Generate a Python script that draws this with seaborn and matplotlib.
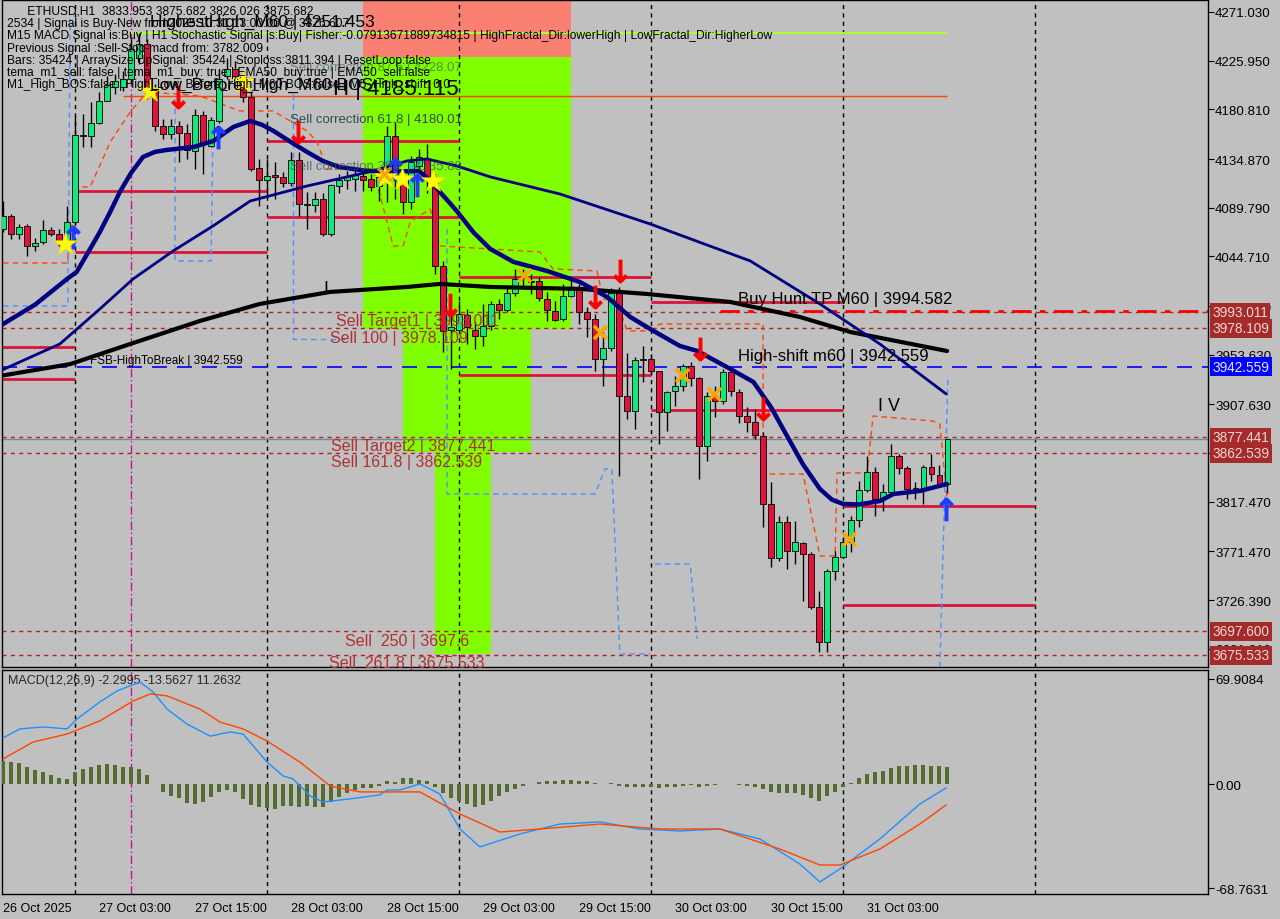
import numpy as np
import seaborn as sns
import matplotlib.pyplot as plt
from matplotlib.patches import Rectangle

sns.set_style("white")
plt.rcParams['font.family'] = ['Liberation Sans', 'DejaVu Sans']

BG = "#c0c0c0"
BULL = "#14e67c"
BEAR = "#dc143c"
LVL = "#b22222"

# ETHUSD H1 candles, 26 Oct 15:00 -> 31 Oct 13:00
opens = [4070, 4082, 4065, 4073, 4054, 4058, 4069, 4065, 4059, 4077,
         4157, 4156, 4168, 4189, 4202, 4202, 4209, 4228, 4241, 4200,
         4165, 4158, 4165, 4159, 4142, 4176, 4147, 4170, 4212, 4218,
         4211, 4192, 4127, 4115, 4120, 4118, 4113, 4134, 4092, 4092,
         4098, 4065, 4110, 4115, 4116, 4119, 4116, 4110, 4121, 4156,
         4118, 4095, 4128, 4135, 4114, 4036, 3977, 3977, 3990, 3977,
         3971, 3980, 4001, 3995, 4011, 4027, 4022, 4022, 4005, 3994,
         3987, 4008, 4014, 3993, 3987, 3950, 3960, 4012, 3915, 3902,
         3950, 3950, 3939, 3901, 3920, 3925, 3943, 3932, 3869, 3915,
         3911, 3938, 3919, 3897, 3891, 3878, 3815, 3765, 3799, 3772,
         3779, 3769, 3720, 3688, 3753, 3766, 3780, 3801, 3828, 3845,
         3820, 3827, 3860, 3849, 3829, 3829, 3850, 3842, 3834.0]
highs = [4096, 4084, 4075, 4075, 4062, 4078, 4072, 4070, 4091, 4175,
         4177, 4188, 4197, 4212, 4214, 4216, 4246, 4251.5, 4246, 4204,
         4172, 4172, 4170, 4167, 4181, 4179, 4174, 4218, 4228, 4226,
         4214, 4198, 4135, 4135, 4132, 4123, 4141, 4141, 4104, 4104,
         4103, 4112, 4121, 4124, 4126, 4124, 4121, 4124, 4165, 4169,
         4121, 4138, 4144, 4149, 4121, 4040, 3993, 4003, 3996, 3984,
         4001, 4003, 4005, 4017, 4033, 4033, 4028, 4026, 4012, 4003,
         4019, 4024, 4019, 3998, 3991, 3975, 4015, 4016, 3955, 3952,
         3962, 3954, 3939, 3920, 3934, 3945, 3947, 3933, 3919, 3925,
         3940, 3940, 3922, 3905, 3903, 3882, 3836, 3804, 3804, 3800,
         3780, 3771, 3735, 3755, 3772, 3785, 3804, 3837, 3860, 3850,
         3834, 3871, 3862, 3851, 3836, 3852, 3862, 3852, 3875.7]
lows = [4067, 4061, 4061, 4045, 4050, 4056, 4064, 4054, 4053, 4075,
        4146, 4146, 4167, 4189, 4195, 4198, 4204, 4223, 4190, 4161,
        4153, 4153, 4132, 4135, 4126, 4121, 4146, 4168, 4209, 4209,
        4188, 4124, 4091, 4101, 4098, 4109, 4110, 4082, 4070, 4086,
        4064, 4064, 4103, 4107, 4105, 4105, 4105, 4096, 4095, 4098,
        4084, 4089, 4126, 4103, 4028, 3956, 3940, 3976, 3964, 3959,
        3962, 3977, 3987, 3993, 4008, 4015, 4010, 4003, 3985, 3985,
        3985, 4007, 3982, 3970, 3939, 3925, 3957, 3841, 3894, 3885,
        3928, 3936, 3871, 3883, 3906, 3920, 3925, 3839, 3855, 3896,
        3908, 3915, 3890, 3882, 3876, 3794, 3757, 3763, 3755, 3760,
        3726, 3718, 3678, 3678, 3745, 3766, 3771, 3794, 3827, 3804,
        3809, 3827, 3843, 3820, 3820, 3815, 3837, 3832, 3826.0]
closes = [4082, 4065, 4072, 4054, 4057, 4069, 4065, 4059, 4077, 4157,
          4156, 4168, 4189, 4203, 4207, 4209, 4237, 4241, 4200, 4165,
          4158, 4165, 4159, 4143, 4176, 4149, 4171, 4209, 4218, 4212,
          4192, 4126, 4115, 4119, 4118, 4113, 4134, 4093, 4092.5, 4098,
          4065, 4111, 4115, 4119, 4120, 4115, 4109, 4118, 4156, 4118,
          4095, 4132, 4137, 4118, 4036, 3976, 3979, 3991, 3979, 3971,
          3980, 4001, 3995, 4011, 4024, 4026, 4021, 4006, 3995, 3986,
          4008, 4014, 3993, 3987, 3950, 3960, 4011, 3915, 3902, 3949,
          3949, 3939, 3901, 3919, 3925, 3943, 3932, 3869, 3915, 3911,
          3938, 3920, 3897, 3891, 3879, 3815, 3765, 3799, 3772, 3780,
          3769, 3720, 3688, 3753, 3766, 3780, 3801, 3828, 3845, 3820,
          3827, 3860, 3849, 3829, 3830, 3850, 3843, 3833, 3875.7]

# moving averages, read at knots (bar index, price)
ma_fast_x = [-0.4, 4, 8, 9.2, 10.6, 12.1, 13.4, 14.6, 16, 17.5, 19, 20.5, 23.8, 26.3, 27.6, 28.8, 30.9,
             32.4, 33.8, 36, 38, 40, 42, 45.5, 48.4, 50.5, 52, 53.4, 54.6, 55.8, 56.8, 58.8, 60.9,
             63.8, 68, 72.1, 75.5, 78.4, 81.3, 84.6, 86.8, 90.9, 93.8, 96, 98, 100, 102.1, 103.6,
             105, 107, 109.6, 111.3, 114.6, 118]
ma_fast_y = [3980.3, 4000.0, 4023.8, 4030.3, 4048.0, 4067.3, 4086.0, 4104.4, 4122.0, 4136.8, 4141.5,
             4143.3, 4146.0, 4151.6, 4158.5, 4164.6, 4170.1, 4166.5, 4160.9, 4150.5, 4141.4, 4133.0,
             4127.5, 4123.8, 4123.8, 4123.5, 4123.8, 4115.0, 4104.4, 4094.5, 4085.9, 4067.0, 4051.6,
             4039.6, 4031.2, 4021.0, 4007.2, 3988.6, 3975.7, 3961.8, 3957.1, 3940.5, 3928.4, 3905.0,
             3878.4, 3852.0, 3829.4, 3819.5, 3815.5, 3815.0, 3818.2, 3824.7, 3827.5, 3834.0]
ma_mid_x = [-0.4, 7.1, 12.1, 16.25, 21.25, 26.25, 30.9, 38, 46.25, 50.5, 53, 56.75, 60.9, 69.6,
            80.9, 93.4, 102.1, 109.6, 117.9]
ma_mid_y = [3938.6, 3963.6, 3996.0, 4023.8, 4049.7, 4072.9, 4096.0, 4109.9, 4123.8, 4133.1, 4134.9,
            4128.4, 4118.3, 4102.5, 4074.7, 4040.5, 4000.7, 3963.6, 3917.3]
ma_slow_x = [-0.4, 8.4, 15.9, 24.6, 32.1, 40.9, 50.5, 54.6, 60.9, 72.1, 80.5, 90.9, 99.6, 105.9, 118]
ma_slow_y = [3934.0, 3945.0, 3963.6, 3984.9, 4000.7, 4011.8, 4016.4, 4019.2, 4016.4, 4014.6, 4009.9,
             4002.5, 3988.6, 3974.7, 3957.1]

# step-like envelope lines
env_orange_x = [0, 8, 9.25, 10.9, 13.4, 15.9, 18, 24.6, 29.6, 33.75, 38, 39.25, 40.5, 46.25, 48, 48.75,
                50, 50.9, 53.4, 54.6, 60.9, 67.1, 68.75, 74.25, 75, 76.75, 78, 80.9, 82.1, 95, 95,
                100, 102.1, 104, 104.25, 108, 108.75, 116.25, 117.1, 118]
env_orange_y = [4038.6, 4038.6, 4109.0, 4109.0, 4150.7, 4178.5, 4197.0, 4193.3, 4179.4, 4179.4, 4160.9,
                4150.7, 4125.7, 4125.7, 4076.6, 4054.4, 4054.4, 4076.6, 4088.6, 4054.4, 4051.6, 4048.8,
                4033.1, 4031.2, 4005.3, 4003.4, 3975.7, 3975.7, 3982.1, 3982.1, 3843.2, 3843.2, 3767.3,
                3767.3, 3844.2, 3844.2, 3896.9, 3892.3, 3889.5, 3820.1]
env_blue_paths = [
    ([0, 8.1, 8.4], [3998.8, 3998.8, 4264.6]),
    ([21.5, 21.5, 26, 26.25], [4190.5, 4040.5, 4040.5, 4167.4]),
    ([36.25, 36.25, 43.4], [4195.1, 3968.3, 3968.3]),
    ([55.5, 55.5, 74, 75.25, 76.1, 77.1, 80.9], [4070.1, 3824.7, 3824.7, 3847.9, 3847.9, 3676.6, 3676.6]),
    ([81.5, 85.9, 86.75], [3759.9, 3759.9, 3690.5]),
    ([117.1, 118.1], [3664.5, 3931.2]),
]

# signal zones (x0, x1, low, high, colour)
zones = [(45.0, 71.0, 4229.4, 4300.0, "#fa8072"),
         (45.0, 71.0, 3977.5, 4229.4, "#7fff00"),
         (50.0, 66.0, 3863.6, 3977.5, "#7fff00"),
         (54.0, 61.0, 3676.6, 3863.6, "#7fff00")]

# crimson support/resistance segments (x0, x1, price)
segments = [(-0.4, 9, 3960.8), (-0.4, 9, 3931.2), (9, 33, 4105.3), (9, 33, 4048.8),
            (33, 57, 4151.6), (33, 57, 4081.2), (57, 81, 4025.6), (57, 81, 3934.9),
            (81, 105, 4002.5), (81, 105, 3902.5), (105, 129, 3813.6), (105, 129, 3721.9)]

levels = [3993.011, 3978.109, 3877.441, 3862.539, 3697.600, 3675.533]
fsb_level = 3942.559
bid = 3875.682
buy_hunt = 3994.582
highest_high = 4251.453
h_level = 4193.1

box_prices = [3993.011, 3978.109, 3942.559, 3877.441, 3862.539, 3697.600, 3675.533]
box_colors = ["#a52a2a", "#a52a2a", "#0000ff", "#a52a2a", "#a52a2a", "#a52a2a", "#a52a2a"]

price_ticks = [4271.030, 4225.950, 4180.810, 4134.870, 4089.790, 4044.710, 3998.710, 3953.630,
               3907.630, 3862.550, 3817.470, 3771.470, 3726.390, 3681.210]

sell_arrows_x = [21.9, 36.9, 55.9, 74.0, 77.1, 87.1, 95.0]
sell_arrows_y = [4192.3, 4159.9, 4000.0, 4007.0, 4031.0, 3959.0, 3903.4]
buy_arrows_x = [8.75, 26.9, 49.0, 51.75, 117.9]
buy_arrows_y = [4062.7, 4155.3, 4125.7, 4110.9, 3810.8]
stars_x = [7.75, 18.4, 30.0, 47.75, 49.9, 53.75]
stars_y = [4056.2, 4197.9, 4206.0, 4118.3, 4116.4, 4114.6]
cross_x = [47.6, 65.1, 74.6, 84.9, 88.9, 105.75]
cross_y = [4121.0, 4027.5, 3974.7, 3934.9, 3917.3, 3783.0]

# MACD(12,26,9)
macd_x = [0, 2.1, 5, 8, 9.25, 12.1, 14.25, 17.1, 18.75, 20.5, 23, 25.9, 28.4, 30, 33, 35, 36.25, 38.4,
          40, 43.4, 47.1, 48, 49.6, 52.1, 54.6, 57.1, 59.6, 64.6, 69.6, 74.6, 79.6, 84.6, 89.6,
          94.6, 99.6, 102.1, 104.6, 109.6, 114.6, 117.9]
macd_y = [30.8, 36.8, 38.1, 36.8, 43.4, 54.7, 62.0, 67.9, 61.3, 50.0, 40.0, 32.0, 34.8, 33.4, 14.8,
          5.6, 3.6, -7.7, -11.7, -9.6, -7.0, -3.7, -3.7, 0.3, -6.4, -29.6, -41.5, -32.9, -26.3,
          -24.9, -29.6, -30.9, -29.6, -36.2, -52.8, -64.7, -56.1, -36.2, -13.0, -2.3]
signal_x = [0, 3.75, 8, 12.1, 16.25, 18.4, 20.5, 24.6, 27.1, 30, 33, 37.1, 40.9, 44.6, 49.6, 52.1,
            57.1, 62.1, 67.1, 74.6, 82.1, 89.6, 97.1, 102.1, 104.6, 109.6, 114.6, 117.9]
signal_y = [16.9, 28.1, 33.4, 42.1, 55.3, 60.0, 58.7, 50.0, 41.4, 36.8, 28.8, 14.8, -1.1, -5.0, -5.0,
            -5.0, -19.6, -31.6, -29.6, -26.3, -29.6, -29.6, -42.9, -53.5, -53.5, -42.9, -26.3, -13.6]
hist = [15.7, 14.7, 14.0, 11.7, 9.6, 8.0, 6.2, 4.2, 3.6, 8.0,
        10.2, 11.3, 12.9, 13.5, 12.9, 11.7, 11.3, 10.2, 6.2, 0.3,
        -4.8, -7.5, -9.2, -12.3, -13.0, -11.9, -8.1, -4.8, -3.7, -4.8,
        -9.7, -13.7, -15.2, -15.9, -16.3, -14.5, -14.5, -14.8, -14.5, -14.8,
        -14.8, -11.9, -8.1, -5.9, -3.7, -2.6, -2.6, -0.9, 2.5, 1.8,
        4, 4, 3, 2, -2, -6, -9, -11, -13, -15,
        -14, -11, -8, -5, -3, -1, 0.5, 1.5, 2, 2.5,
        3, 3, 2.5, 2, 1, 0.5, 1, -1, -2, -2,
        -2, -2, -2.5, -2, -1.5, -1, -0.5, -1.5, -1, -0.5,
        0, 0, -0.5, -1, -1.5, -3, -5, -5.5, -6, -6,
        -7, -9, -11, -8, -5, -2, 1, 4, 7, 8,
        9, 11, 12, 12.5, 13, 13, 12.5, 12, 11.3]

tick_pos = [0, 12, 24, 36, 48, 60, 72, 84, 96, 108]
tick_labels = ["26 Oct 2025", "27 Oct 03:00", "27 Oct 15:00", "28 Oct 03:00", "28 Oct 15:00",
               "29 Oct 03:00", "29 Oct 15:00", "30 Oct 03:00", "30 Oct 15:00", "31 Oct 03:00"]
day_lines = [9, 33, 57, 81, 105, 129]
signal_bar = 16

info_lines = [
    "      ETHUSD,H1  3833.953 3875.682 3826.026 3875.682",
    "2534 | Signal is Buy-New from2025.10.31 13:00:00 @ 3876.607",
    "M15 MACD Signal is:Buy | H1 Stochastic Signal is:Buy| Fisher:-0.07913671889734815 | HighFractal_Dir:lowerHigh | LowFractal_Dir:HigherLow",
    "Previous Signal :Sell-Stop-macd from: 3782.009",
    "Bars: 35424 | ArraySize UpSignal: 35424 | Stoploss:3811.394 | ResetLoop:false",
    "tema_m1_sell: false | tema_m1_buy: true | EMA50_buy:true | EMA50_sell:false",
    "M1_High_BOS:false | High_Low_Before_High_M60 BOS:false | M5_High_shift: 0.0",
]

XMIN, XMAX = -0.125, 150.625

fig = plt.figure(figsize=(12.8, 9.2), dpi=100, facecolor=BG)
ax = fig.add_axes([0.0016, 0.2739, 0.9422, 0.725], facecolor=BG)
ax2 = fig.add_axes([0.0016, 0.0272, 0.9422, 0.2435], facecolor=BG)

for a in (ax, ax2):
    a.set_xlim(XMIN, XMAX)
    for s in a.spines.values():
        s.set_color("black")
        s.set_linewidth(1)
    for d in day_lines:
        a.axvline(d, color="black", lw=1, ls=(0, (3, 3)), zorder=1)
    a.axvline(signal_bar, color="#c71585", lw=1, ls=(0, (6, 2, 1, 2)), zorder=1)

ax.set_ylim(3664.5, 4282.1)

for x0, x1, lo, hi, col in zones:
    ax.add_patch(Rectangle((x0, lo), x1 - x0, hi - lo, color=col, lw=0, zorder=0))

for x0, x1, p in segments:
    ax.hlines(p, x0, x1, color=BEAR, lw=2, zorder=2)

for p in levels:
    ax.axhline(p, color=LVL, lw=1, ls=(0, (3, 3)), zorder=2)
ax.axhline(fsb_level, color="#0000ff", lw=1.2, ls=(0, (9, 6)), zorder=2)
ax.axhline(bid, color="#778899", lw=1, zorder=2)
ax.hlines(buy_hunt, 89.6, XMAX, color="#ff0000", lw=2, ls=(0, (7, 3, 2, 3)), zorder=2)
ax.hlines(highest_high, 16, 118, color="#adff2f", lw=1.5, zorder=2)
ax.hlines(h_level, 15, 118, color="#ff4500", lw=1, zorder=2)

ax.plot(env_orange_x, env_orange_y, color="#ff4500", lw=1, ls=(0, (4, 3)), zorder=3)
for px, py in env_blue_paths:
    ax.plot(px, py, color="#4f8fff", lw=1, ls=(0, (4, 3)), zorder=3)

# candles
o = np.array(opens); h = np.array(highs); l = np.array(lows); c = np.array(closes)
idx = np.arange(len(o))
up = c >= o
body_lo = np.minimum(o, c)
body_h = np.maximum(np.abs(c - o), 0.9)
ax.vlines(idx, l, h, color="black", lw=1, zorder=4)
ax.bar(idx[up], body_h[up], bottom=body_lo[up], width=0.64, color=BULL, edgecolor="black", lw=0.6, zorder=5)
ax.bar(idx[~up], body_h[~up], bottom=body_lo[~up], width=0.64, color=BEAR, edgecolor="black", lw=0.6, zorder=5)

sns.lineplot(x=ma_slow_x, y=ma_slow_y, ax=ax, color="black", linewidth=3, estimator=None, sort=False, zorder=6)
sns.lineplot(x=ma_mid_x, y=ma_mid_y, ax=ax, color="#000080", linewidth=2, estimator=None, sort=False, zorder=6)
sns.lineplot(x=ma_fast_x, y=ma_fast_y, ax=ax, color="#000080", linewidth=3.2, estimator=None, sort=False, zorder=6)

ax.scatter(sell_arrows_x, sell_arrows_y, marker=r"$\downarrow$", s=260, color="#ff0000", zorder=7)
ax.scatter(buy_arrows_x, buy_arrows_y, marker=r"$\uparrow$", s=260, color="#1e3cff", zorder=7)
ax.scatter(stars_x, stars_y, marker="*", s=300, color="#ffff00", edgecolor="#ffd700", lw=0.5, zorder=7)
ax.scatter(cross_x, cross_y, marker="x", s=90, color="#ffa500", lw=2.5, zorder=7)

# chart annotations
txt = dict(zorder=8, va="center", ha="left")
ax.text(18.4, 4262.7, "HighestHigh_M60 | 4251.453", fontsize=12.5, color="black", **txt)
ax.text(18.4, 4203.5, "Low_Before_High_M60 BOS", fontsize=12.5, color="black", **txt)
ax.text(41.25, 4199.8, "H | 4185.115", fontsize=16, color="black", **txt)
ax.text(35.9, 4220.1, "Sell correction 87.5 | 4228.07", fontsize=9.5, color="#2f4f4f", alpha=0.6, **txt)
ax.text(35.9, 4172.0, "Sell correction 61.8 | 4180.01", fontsize=9.5, color="#2f4f4f", **txt)
ax.text(35.9, 4128.5, "Sell correction 38.2 | 4135.88", fontsize=9.5, color="#2f4f4f", alpha=0.7, **txt)
red_txt = "#b03030"
ax.text(41.6, 3984.9, "Sell Target1 | 3993.011", fontsize=11.5, color=red_txt, **txt)
ax.text(40.9, 3969.2, "Sell 100 | 3978.109", fontsize=11.5, color=red_txt, **txt)
ax.text(41.0, 3869.2, "Sell Target2 | 3877.441", fontsize=11.5, color=red_txt, **txt)
ax.text(41.0, 3854.4, "Sell 161.8 | 3862.539", fontsize=11.5, color=red_txt, **txt)
ax.text(42.75, 3689.5, "Sell  250 | 3697.6", fontsize=11.5, color=red_txt, **txt)
ax.text(40.75, 3669.1, "Sell  261.8 | 3675.533", fontsize=11.5, color=red_txt, **txt)
ax.text(91.9, 4005.3, "Buy Hunt TP M60 | 3994.582", fontsize=12, color="black", **txt)
ax.text(91.9, 3953.4, "High-shift m60 | 3942.559", fontsize=12, color="black", **txt)
ax.text(10.9, 3948.8, "FSB-HighToBreak | 3942.559", fontsize=8.5, color="black", **txt)
ax.text(40.0, 4014.6, "I", fontsize=13, color="black", **txt)
ax.text(109.4, 3906.2, "I V", fontsize=13, color="black", **txt)

# right price scale
ax.yaxis.tick_right()
ax.set_yticks(price_ticks)
ax.set_yticklabels([f"{p:.3f}" for p in price_ticks])
ax.tick_params(axis="y", direction="out", length=4, pad=1, labelsize=9.6, colors="black")
ax.set_xticks([])
ytr = ax.get_yaxis_transform()
for p, col in zip(box_prices, box_colors):
    ax.text(1.0035, p, f"{p:.3f}", transform=ytr, fontsize=9.8, color="#f6d6d6" if col != "#0000ff" else "#e8e8ff",
            va="center", ha="left", zorder=10, clip_on=False,
            bbox=dict(boxstyle="square,pad=0.18", fc=col, ec="none"))

# MACD panel
ax2.set_ylim(-72.7, 75.9)
ax2.bar(idx, hist, width=0.42, color="#556b2f", linewidth=0, zorder=3)
sns.lineplot(x=macd_x, y=macd_y, ax=ax2, color="#1e90ff", linewidth=1, estimator=None, sort=False, zorder=4)
sns.lineplot(x=signal_x, y=signal_y, ax=ax2, color="#ff4500", linewidth=1, estimator=None, sort=False, zorder=4)
ax2.yaxis.tick_right()
ax2.set_yticks([69.9084, 0.0, -68.7631])
ax2.set_yticklabels(["69.9084", "0.00", "-68.7631"])
ax2.tick_params(axis="y", direction="out", length=4, pad=1, labelsize=9.6, colors="black")
ax2.set_xticks(tick_pos)
ax2.set_xticklabels(tick_labels, ha="left")
ax2.tick_params(axis="x", direction="out", length=4, pad=2, labelsize=9, colors="black")
ax2.text(0.005, 0.955, "MACD(12,26,9) -2.2995 -13.5627 11.2632", transform=ax2.transAxes,
         fontsize=9, va="center", ha="left")
ax.set_ylabel("")
ax2.set_ylabel("")

for i, line in enumerate(info_lines):
    fig.text(7 / 1280, 1 - (12 + 12.2 * i) / 920, line, fontsize=8.65, color="black",
             va="center", ha="left", zorder=20)

fig.savefig("out.png", dpi=100, facecolor=BG)
